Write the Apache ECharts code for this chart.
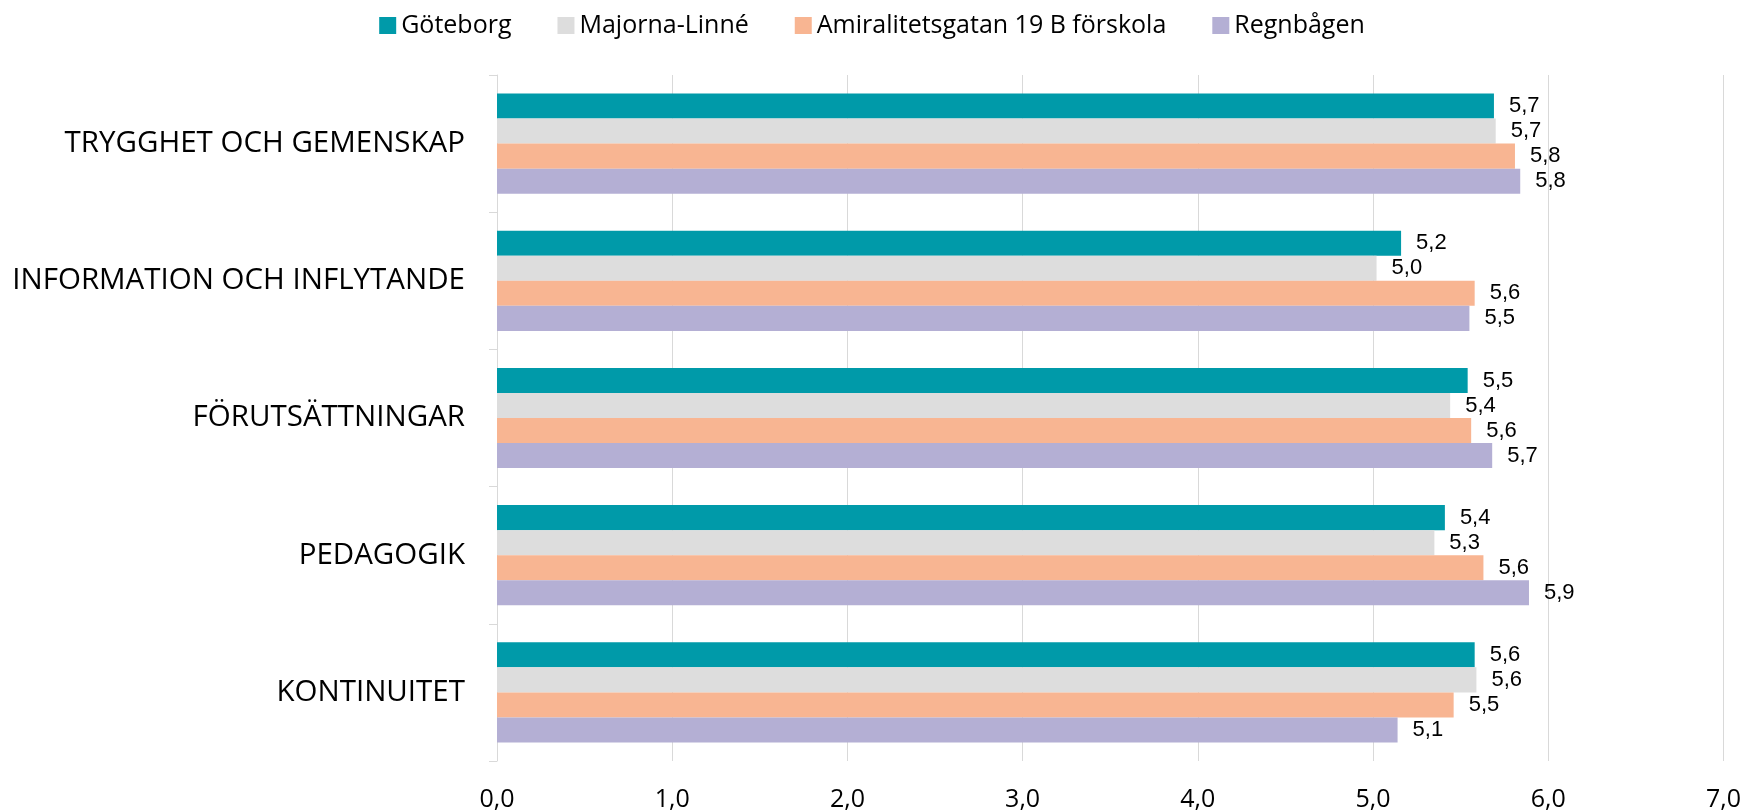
<!DOCTYPE html>
<html><head><meta charset="utf-8">
<script src="https://cdn.jsdelivr.net/npm/echarts@6/dist/echarts.min.js"></script>
<style>html,body{margin:0;padding:0;background:#fff}#c{width:1744px;height:812px}</style>
</head><body><div id="c"></div>
<script>
const categories = ["TRYGGHET OCH GEMENSKAP","INFORMATION OCH INFLYTANDE","FÖRUTSÄTTNINGAR","PEDAGOGIK","KONTINUITET"];
const seriesNames = ["Göteborg","Majorna-Linné","Amiralitetsgatan 19 B förskola","Regnbågen"];
const goteborg = [5.69, 5.16, 5.54, 5.41, 5.58];
const majorna = [5.70, 5.02, 5.44, 5.35, 5.59];
const amiral = [5.81, 5.58, 5.56, 5.63, 5.46];
const regnbagen = [5.84, 5.55, 5.68, 5.89, 5.14];
const xTicks = [0,1,2,3,4,5,6,7];
const colors = ["#009aa9","#dddddd","#f8b592","#b4afd4"];

const values = [goteborg, majorna, amiral, regnbagen];
const chart = echarts.init(document.getElementById('c'));
chart.setOption({
  animation:false,
  legend:{
    top:8, left:'center', itemWidth:17, itemHeight:17, itemGap:46,
    icon:'rect',
    textStyle:{fontFamily:'Open Sans', fontSize:25, color:'#000'},
    data:seriesNames
  },
  grid:{left:497, right:20, top:75, bottom:49, containLabel:false},
  xAxis:{
    type:'value', min:0, max:7, interval:1,
    axisLine:{show:false}, axisTick:{show:false},
    splitLine:{lineStyle:{color:'#d9d9d9', width:1}},
    axisLabel:{margin:26, fontFamily:'Open Sans', fontSize:25, color:'#000',
      formatter:v=>v.toFixed(1).replace('.',',')}
  },
  yAxis:{
    type:'category', inverse:true, data:categories,
    axisLine:{lineStyle:{color:'#d9d9d9'}},
    axisTick:{show:true, length:8, lineStyle:{color:'#d9d9d9'}},
    axisLabel:{margin:32, fontFamily:'Open Sans', fontSize:29.5, color:'#000'}
  },
  series: seriesNames.map((n,i)=>({
    name:n, type:'bar', data:values[i], barGap:'0%', barCategoryGap:'27%',
    itemStyle:{color:colors[i]},
    label:{show:true, position:'right', distance:15, fontFamily:'Liberation Sans', fontSize:22, color:'#000',
      formatter:p=>p.value.toFixed(1).replace('.',',')}
  }))
});
</script></body></html>
